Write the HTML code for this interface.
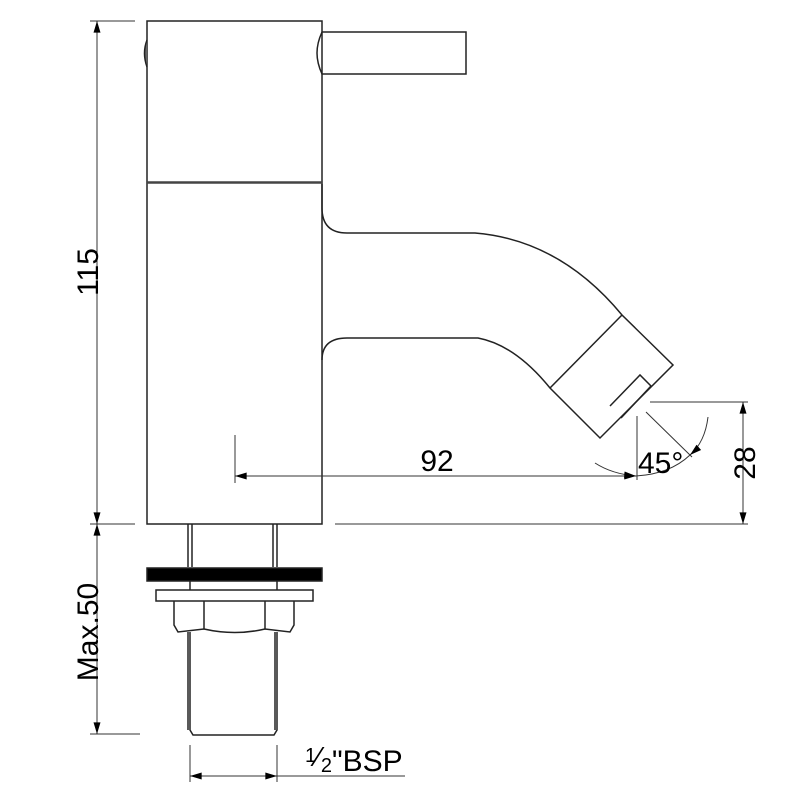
<!DOCTYPE html>
<html><head><style>body{margin:0;background:#fff}svg{display:block}</style></head><body>
<svg width="800" height="800" viewBox="0 0 800 800" xmlns="http://www.w3.org/2000/svg" font-family="Liberation Sans, sans-serif">
<defs>
<marker id="a" viewBox="0 0 10 6" refX="10" refY="3" markerWidth="17" markerHeight="7" markerUnits="userSpaceOnUse" orient="auto-start-reverse"><path d="M0,0L10,3L0,6z" fill="#000"/></marker>
</defs>
<g fill="none" stroke="#222" stroke-width="1.5">
<rect x="147" y="21" width="175" height="503"/>
<line x1="147" y1="182.5" x2="322" y2="182.5" stroke-width="2.5" stroke="#444"/>
<path d="M147,40 Q142,53 147,67" fill="#666"/>
<path d="M322,32 L466,32 L466,74 L322,74 Q317,63 317,53 Q317,43 322,32"/>
<path d="M322,184 L322,208 Q322,233 347,233 L475,233 Q560,240 622,315 L673,365 L600,438 L550,388 Q515,345 478,338 L347,338 Q322,338 322,360"/>
<line x1="622" y1="315" x2="550" y2="388"/>
<path d="M610,406 L640,375 L651,386 L621,418"/>
<line x1="188" y1="524" x2="188" y2="567"/><line x1="192" y1="524" x2="192" y2="567"/>
<line x1="273" y1="524" x2="273" y2="567"/><line x1="277" y1="524" x2="277" y2="567"/>
<rect x="147" y="568" width="175" height="13" fill="#000"/>
<line x1="190" y1="581" x2="190" y2="590"/><line x1="277" y1="581" x2="277" y2="590"/>
<rect x="156" y="590" width="157" height="11"/>
<path d="M174,601 L174,625 L178,632 L204,629 Q235,636 265,629 L290,632 L294,625 L294,601"/>
<line x1="204" y1="601" x2="204" y2="629"/><line x1="265" y1="601" x2="265" y2="629"/>
<path d="M190,632 L190,730 L193,735 L274,735 L277,730 L277,632"/>
<line x1="188" y1="632" x2="188" y2="730"/><line x1="275" y1="632" x2="275" y2="730"/>
</g>
<g fill="none" stroke="#333" stroke-width="1">
<line x1="90" y1="21" x2="135" y2="21"/><line x1="90" y1="524" x2="135" y2="524"/><line x1="90" y1="734" x2="140" y2="734"/>
<line x1="97" y1="21" x2="97" y2="524" marker-start="url(#a)" marker-end="url(#a)"/>
<line x1="97" y1="524" x2="97" y2="734" marker-start="url(#a)" marker-end="url(#a)"/>
<line x1="235" y1="435" x2="235" y2="483"/>
<line x1="235" y1="476" x2="636" y2="476" marker-start="url(#a)" marker-end="url(#a)"/>
<line x1="637" y1="416" x2="637" y2="480"/>
<line x1="646" y1="412" x2="692" y2="457"/>
<path d="M595,463 Q612,474 636,476" marker-end="url(#a)"/>
<path d="M708,417 Q705,442 690,455" marker-end="url(#a)"/>
<path d="M636,476 Q670,474 690,455"/>
<line x1="650" y1="402" x2="748" y2="402"/>
<line x1="335" y1="524" x2="748" y2="524"/>
<line x1="743" y1="402" x2="743" y2="524" marker-start="url(#a)" marker-end="url(#a)"/>
<line x1="190" y1="745" x2="190" y2="782"/><line x1="277" y1="745" x2="277" y2="782"/>
<line x1="190" y1="776" x2="277" y2="776" marker-start="url(#a)" marker-end="url(#a)"/>
<line x1="277" y1="776" x2="405" y2="776"/>
</g>
<g fill="#000" font-size="30">
<text transform="translate(98,272) rotate(-90)" text-anchor="middle">115</text>
<text transform="translate(98,632) rotate(-90)" text-anchor="middle">Max.50</text>
<text transform="translate(755,463) rotate(-90)" text-anchor="middle">28</text>
<text x="437" y="471" text-anchor="middle">92</text>
<text x="638" y="473">45°</text>
<text x="305" y="771"><tspan font-size="20" dy="-9">1</tspan><tspan font-size="28" dy="4">⁄</tspan><tspan font-size="20" dy="6">2</tspan><tspan dy="-1">"BSP</tspan></text>
</g>
</svg>
</body></html>
